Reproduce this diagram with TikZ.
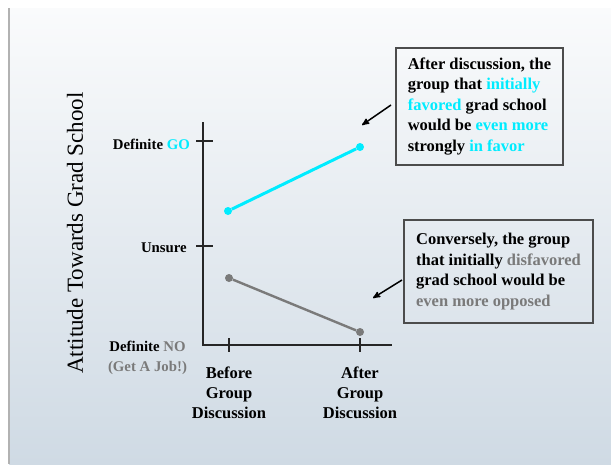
\documentclass[tikz,border=0pt]{standalone}
\usepackage{fontspec}
\setmainfont{Liberation Serif}[BoldFont={Liberation Serif Bold}]
\usetikzlibrary{arrows,positioning}
\definecolor{gocyan}{RGB}{0,236,255}
\definecolor{nogray}{RGB}{122,122,122}
\definecolor{bgtop}{RGB}{250,251,252}
\definecolor{bgbot}{RGB}{207,218,228}

\begin{document}
\begin{tikzpicture}[x=1pt,y=-1pt]
      \tikzstyle{axis} = [line width=1.2pt, black!85]
      \tikzstyle{dot} = [circle, inner sep=0pt, minimum size=8pt]
      \tikzstyle{ticklab} = [inner sep=0pt, font=\bfseries\fontsize{14.8}{20}\selectfont]
      \tikzstyle{xlab} = [inner sep=0pt, align=center, font=\bfseries\fontsize{16.5}{20}\selectfont]
      \tikzstyle{box} = [draw=black!70, line width=1.4pt, align=left, minimum width=167pt,
        minimum height=117pt, font=\bfseries\fontsize{16.5}{20.5}\selectfont]
      \useasboundingbox (0,0) rectangle (611,464);
      % slide background
      \fill[white] (0,0) rectangle (611,464);
      \shade[top color=bgtop, bottom color=bgbot] (9,8) rectangle (611,464);
      \draw[line width=1.5pt, black!30] (9,8) -- (9,464);

      % axes and ticks
      \coordinate (ytop) at (203,122);
      \coordinate (orig) at (203,345);
      \coordinate (xend) at (392,345);
      \draw[axis] (ytop) -- (orig) -- (xend);
      \foreach \y/\n in {141/go,246/unsure}{
        \coordinate (t\n) at (203,\y);
        \draw[axis] ([xshift=-7pt]t\n) -- ([xshift=10pt]t\n);
      }
      \foreach \x/\n in {229/before,360/after}{
        \coordinate (t\n) at (\x,345);
        \draw[axis] ([yshift=7pt]t\n) -- ([yshift=-7pt]t\n);
      }
      \node[rotate=90, inner sep=0pt, font=\fontsize{23}{26}\selectfont] (ylab) at (75,233)
        {Attitude Towards Grad School};
      \node[ticklab, anchor=east] (golab) at (190,144) {Definite \textcolor{gocyan}{GO}};
      \node[ticklab, anchor=east] (unsurelab) at (187,248) {Unsure};
      \node[ticklab, align=center] (nolab) at (147.5,358)
        {Definite \textcolor{nogray}{NO}\\\textcolor{nogray}{(Get A Job!)}};
      \node[xlab] (beforelab) at (229,393) {Before\\Group\\Discussion};
      \node[xlab] (afterlab) at (360,393) {After\\Group\\Discussion};

      % data
      \node[dot, fill=gocyan] (c1) at (228,211) {};
      \node[dot, fill=gocyan] (c2) at (360,147) {};
      \node[dot, fill=nogray] (g1) at (229,278) {};
      \node[dot, fill=nogray] (g2) at (360,332) {};
      \path[line width=3pt, gocyan] (c1) edge (c2);
      \path[line width=2.4pt, nogray] (g1) edge (g2);

      % call-outs
      \node[box] (upper) at (479.5,106.5) {After discussion, the\\
        group that \textcolor{gocyan}{initially}\\
        \textcolor{gocyan}{favored} grad school\\
        would be \textcolor{gocyan}{even more}\\
        strongly \textcolor{gocyan}{in favor}};
      \node[box, minimum width=189pt, minimum height=103pt] (lower) at (498.5,271.5)
        {Conversely, the group\\
        that initially \textcolor{nogray}{disfavored}\\
        grad school would be\\
        \textcolor{nogray}{even more opposed}};
      \coordinate (a1s) at (391,105);
      \coordinate (a1e) at (362,125);
      \coordinate (a2s) at (402,280);
      \coordinate (a2e) at (373,298);
      \path[>=stealth', ->, line width=1.5pt]
      (a1s) edge (a1e)
      (a2s) edge (a2e);
\end{tikzpicture}
\end{document}
